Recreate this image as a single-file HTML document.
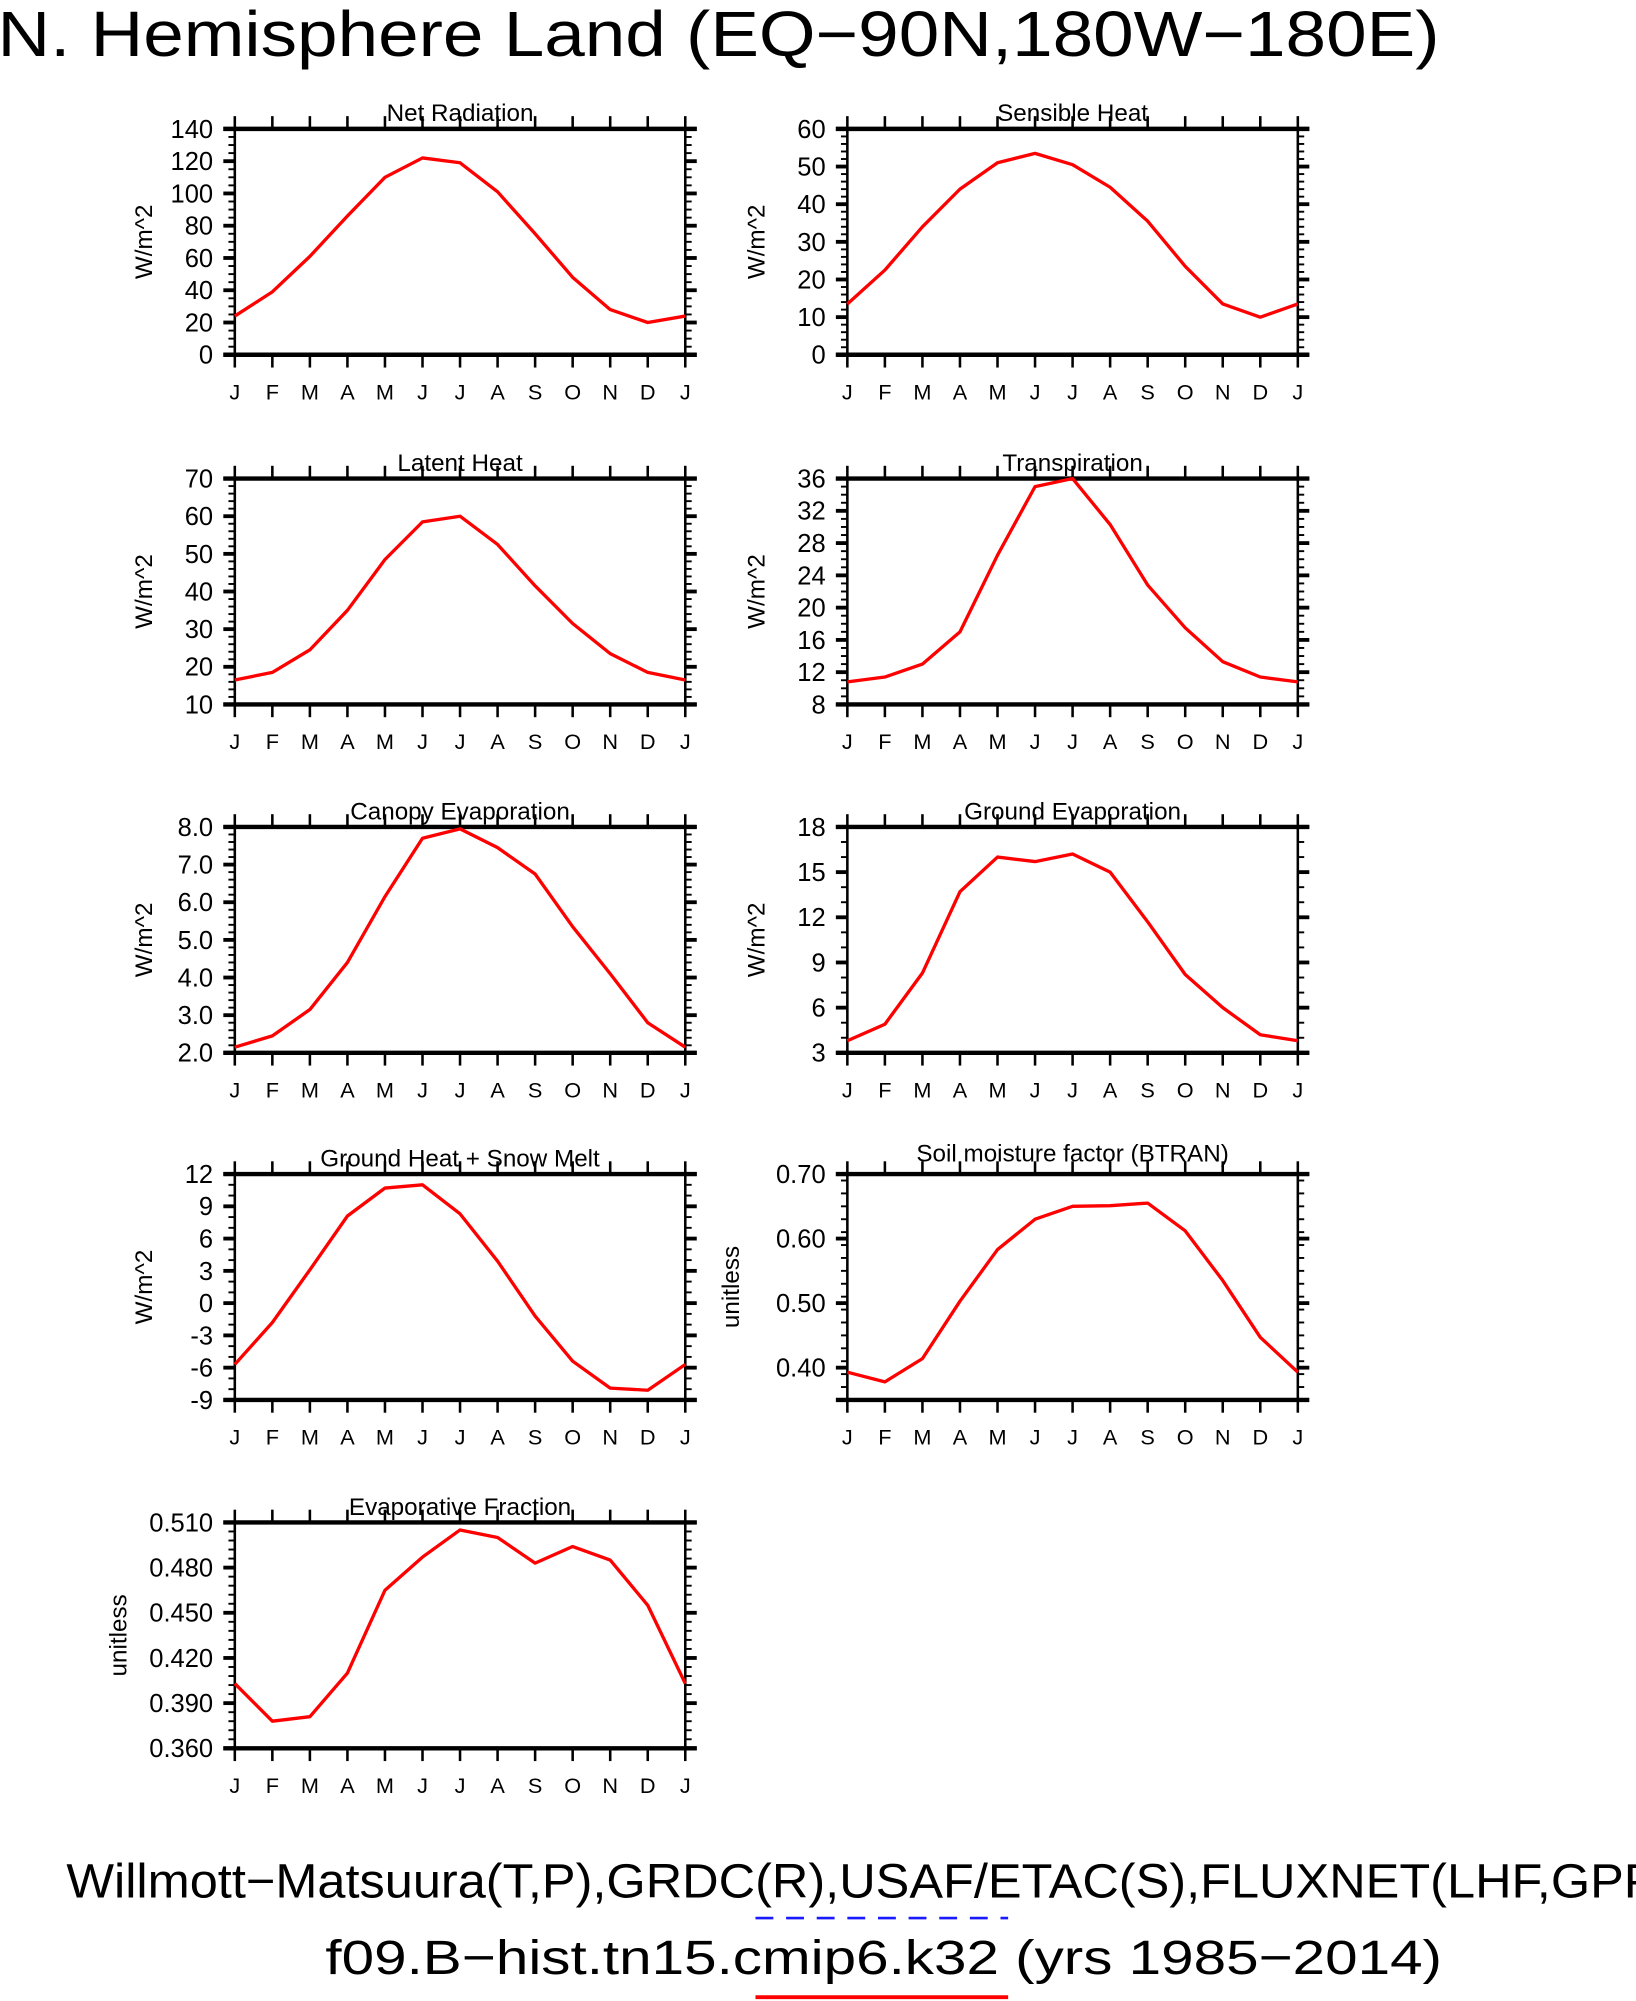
<!DOCTYPE html>
<html><head><meta charset="utf-8"><style>
html,body{margin:0;padding:0;background:#fff}
svg{display:block}
text{font-family:"Liberation Sans",sans-serif;fill:#000}
</style></head><body>
<svg id="chart" width="1636" height="2001" viewBox="0 0 1282 1568" xmlns="http://www.w3.org/2000/svg">
<text x="-2" y="44" font-size="50" textLength="1130" lengthAdjust="spacingAndGlyphs">N. Hemisphere Land (EQ−90N,180W−180E)</text>
<text x="52" y="1487" font-size="38" textLength="1260" lengthAdjust="spacingAndGlyphs">Willmott−Matsuura(T,P),GRDC(R),USAF/ETAC(S),FLUXNET(LHF,GPP)</text>
<line x1="592" y1="1503" x2="790" y2="1503" stroke="#1a1aff" stroke-width="2" stroke-dasharray="14,10"/>
<text x="255" y="1547" font-size="38" textLength="875" lengthAdjust="spacingAndGlyphs">f09.B−hist.tn15.cmip6.k32 (yrs 1985−2014)</text>
<line x1="592" y1="1565" x2="790" y2="1565" stroke="#ff0000" stroke-width="3"/>
</svg>
<script>
const months = ["J","F","M","A","M","J","J","A","S","O","N","D","J"];
const netRadiation = [24,39,61,86,110,122,119,101,75,48,28,20,24];
const sensibleHeat = [13.5,22.5,34,44,51,53.5,50.5,44.5,35.5,23.5,13.5,10,13.5];
const latentHeat = [16.5,18.5,24.5,35,48.5,58.5,60,52.5,41.5,31.5,23.5,18.5,16.5];
const transpiration = [10.8,11.4,13,17,26.5,35,36,30.3,22.8,17.5,13.3,11.4,10.8];
const canopyEvap = [2.15,2.45,3.15,4.4,6.15,7.7,7.95,7.45,6.75,5.35,4.1,2.8,2.15];
const groundEvap = [3.8,4.9,8.3,13.7,16,15.7,16.2,15,11.7,8.2,6,4.2,3.8];
const groundHeat = [-5.7,-1.8,3.1,8.1,10.7,11,8.3,3.9,-1.2,-5.4,-7.9,-8.1,-5.7];
const btran = [0.393,0.378,0.414,0.503,0.583,0.630,0.650,0.651,0.655,0.612,0.535,0.447,0.393];
const evapFraction = [0.403,0.378,0.381,0.410,0.465,0.487,0.505,0.500,0.483,0.494,0.485,0.455,0.403];

const panels = [
 {name:"net-radiation",title:"Net Radiation",data:netRadiation,min:0,max:140,major:20,minor:5,dec:0,unit:"W/m^2",col:0,row:0},
 {name:"sensible-heat",title:"Sensible Heat",data:sensibleHeat,min:0,max:60,major:10,minor:2,dec:0,unit:"W/m^2",col:1,row:0},
 {name:"latent-heat",title:"Latent Heat",data:latentHeat,min:10,max:70,major:10,minor:2,dec:0,unit:"W/m^2",col:0,row:1},
 {name:"transpiration",title:"Transpiration",data:transpiration,min:8,max:36,major:4,minor:1,dec:0,unit:"W/m^2",col:1,row:1},
 {name:"canopy-evaporation",title:"Canopy Evaporation",data:canopyEvap,min:2,max:8,major:1,minor:0.2,dec:1,unit:"W/m^2",col:0,row:2},
 {name:"ground-evaporation",title:"Ground Evaporation",data:groundEvap,min:3,max:18,major:3,minor:1,dec:0,unit:"W/m^2",col:1,row:2},
 {name:"ground-heat-snow-melt",title:"Ground Heat + Snow Melt",data:groundHeat,min:-9,max:12,major:3,minor:1,dec:0,unit:"W/m^2",col:0,row:3},
 {name:"soil-moisture-btran",title:"Soil moisture factor (BTRAN)",data:btran,min:0.35,max:0.70,major:0.1,minor:0.02,dec:2,unit:"unitless",col:1,row:3,tickStart:0.4,titleUp:4},
 {name:"evaporative-fraction",title:"Evaporative Fraction",data:evapFraction,min:0.36,max:0.51,major:0.03,minor:0.006,dec:3,unit:"unitless",col:0,row:4}
];
const colX=[184,664], pw=353, rowY=[101,375,648,920,1193], ph=177;
const svg=document.getElementById('chart');
const NS="http://www.w3.org/2000/svg";
function mk(tag,attrs,parent){const e=document.createElementNS(NS,tag);for(const k in attrs)e.setAttribute(k,attrs[k]);(parent||svg).appendChild(e);return e;}

panels.forEach(p=>{
 const x0=colX[p.col], y0=rowY[p.row], x1=x0+pw, y1=y0+ph;
 const g=mk('g',{});
 
 
 const xs=i=>x0+i*pw/(months.length-1);
 const ys=v=>y1-(v-p.min)/(p.max-p.min)*ph;
 // frame
 mk('rect',{x:x0,y:y0,width:pw,height:ph,fill:'none',stroke:'#000','stroke-width':2},g);
 mk('line',{x1:x0-9,y1:y0,x2:x1+9,y2:y0,stroke:'#000','stroke-width':3.5},g);
 mk('line',{x1:x0-9,y1:y1,x2:x1+9,y2:y1,stroke:'#000','stroke-width':3.5},g);
 // x ticks
 months.forEach((m,i)=>{
  const x=xs(i);
  mk('line',{x1:x,y1:y0,x2:x,y2:y0-10,stroke:'#000','stroke-width':2},g);
  mk('line',{x1:x,y1:y1,x2:x,y2:y1+10,stroke:'#000','stroke-width':2},g);
  const t=mk('text',{x:x,y:y1+35,'font-size':17,'text-anchor':'middle'},g);
  
  
  t.textContent=m;
 });
 // y minor ticks
 const eps=1e-9;
 for(let v=p.min; v<=p.max+eps; v+=p.minor){
  const y=ys(v);
  mk('line',{x1:x0-5,y1:y,x2:x0,y2:y,stroke:'#000','stroke-width':1.5},g);
  mk('line',{x1:x1,y1:y,x2:x1+5,y2:y,stroke:'#000','stroke-width':1.5},g);
 }
 // y major ticks
 const start=p.tickStart!==undefined?p.tickStart:p.min;
 for(let v=start; v<=p.max+eps; v+=p.major){
  const y=ys(v);
  mk('line',{x1:x0-9,y1:y,x2:x0,y2:y,stroke:'#000','stroke-width':3},g);
  mk('line',{x1:x1,y1:y,x2:x1+9,y2:y,stroke:'#000','stroke-width':3},g);
  const t=mk('text',{x:x0-17,y:y+7,'font-size':20,'text-anchor':'end'},g);
  
  
  t.textContent=v.toFixed(p.dec);
 }
 // title
 const tt=mk('text',{x:(x0+x1)/2,y:y0-6-(p.titleUp||0),'font-size':19,'text-anchor':'middle'},g);
 
 
 tt.textContent=p.title;
 // y axis title
 const lx = p.unit==="unitless" ? x0-85 : x0-65;
 const yt=mk('text',{x:lx,y:(y0+y1)/2,'font-size':19,'text-anchor':'middle',transform:`rotate(-90 ${lx} ${(y0+y1)/2})`},g);
 
 
 yt.textContent=p.unit;
 // line
 const pts=p.data.map((v,i)=>xs(i).toFixed(2)+','+ys(v).toFixed(2)).join(' ');
 const pl=mk('polyline',{points:pts,fill:'none',stroke:'#ff0000','stroke-width':2.6,'stroke-linejoin':'round'},g);
 
 
});
</script>
</body></html>
